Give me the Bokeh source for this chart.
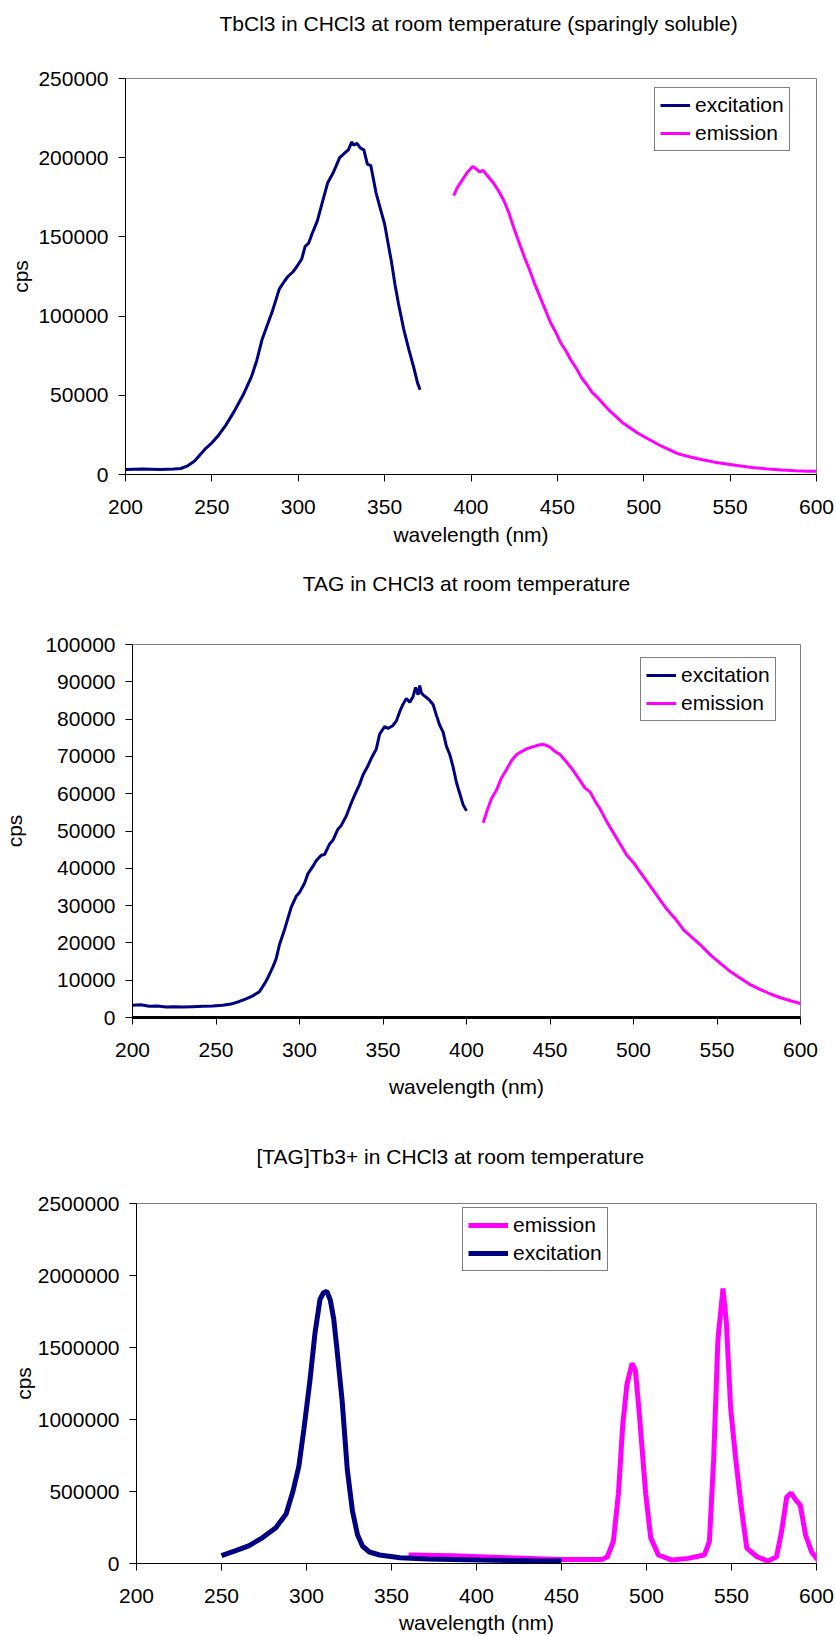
from bokeh.plotting import figure
from bokeh.models import Range1d, FixedTicker, BasicTickFormatter, Legend, LegendItem, Title
from bokeh.embed import file_html
from bokeh.resources import INLINE

FONT = "Liberation Sans"
NAVY = "#000080"
MAGENTA = "#FF00FF"

# ---------------- Chart 1: TbCl3 ----------------
tb_exc_wl = [200, 210, 220, 228, 232, 236, 240, 246, 250, 254, 258, 263, 268, 273, 276, 279, 282,
             285, 289, 292, 294, 297, 299, 302, 304, 306, 308, 311, 313, 315, 317, 320, 322, 324,
             327, 329, 331, 332, 334, 336, 338, 340, 342, 345, 348, 350, 352, 354, 356, 358, 361,
             364, 367, 369, 370.5]
tb_exc_cps = [3200, 3500, 3100, 3400, 3800, 5500, 8500, 16000, 20000, 25000, 31000, 40000, 50000,
              62000, 72000, 85000, 94000, 103000, 117000, 122000, 125000, 128000, 131000, 136000,
              144000, 146000, 152000, 160000, 168000, 176000, 184000, 190000, 195000, 200000,
              203000, 205000, 210000, 208000, 209000, 206000, 205000, 196000, 195000, 178000,
              166000, 158000, 146000, 134000, 120000, 108000, 92000, 79000, 67000, 58000, 53500]
tb_em_wl = [390, 392, 395, 398, 401, 403, 405, 407, 410, 413, 416, 419, 422, 425, 428, 431, 434,
            437, 440, 443, 446, 449, 452, 455, 458, 461, 464, 467, 470, 473, 477, 480, 484, 488,
            492, 496, 500, 505, 510, 515, 520, 527, 534, 541, 548, 556, 564, 572, 580, 588, 595, 600]
tb_em_cps = [176000, 181000, 186000, 191000, 194500, 193000, 191000, 192000, 188000, 184000,
             179000, 173000, 165000, 155000, 146000, 137000, 129000, 120000, 112000, 104000,
             96000, 90000, 83000, 78000, 72000, 67000, 61000, 56800, 52000, 48900, 44000, 40500,
             36500, 32500, 29500, 26500, 24000, 21000, 18000, 15500, 13000, 11000, 9300, 7800,
             6600, 5400, 4300, 3500, 2800, 2300, 2000, 2000]
tb_x_ticks = [200, 250, 300, 350, 400, 450, 500, 550, 600]
tb_y_ticks = [0, 50000, 100000, 150000, 200000, 250000]

# ---------------- Chart 2: TAG ----------------
tag_exc_wl = [200, 205, 210, 215, 220, 225, 230, 236, 242, 248, 254, 259, 264, 268, 272, 276, 279,
              281, 284, 286, 288, 291, 293, 295, 298, 300, 303, 305, 308, 310, 313, 315, 318, 320,
              323, 325, 328, 331, 333, 336, 338, 341, 343, 346, 348, 351, 353, 356, 358, 360, 362,
              364, 366, 368, 369.5, 371, 372, 373, 374, 376, 378, 380, 382, 384, 386, 388, 390,
              392, 394, 396, 398, 400]
tag_exc_cps = [3300, 3400, 3000, 3100, 2800, 2900, 2800, 2900, 3000, 3100, 3300, 3600, 4300, 5000,
               5800, 6900, 9000, 10600, 13500, 15700, 19500, 23500, 26500, 29500, 32500, 33500,
               36000, 38500, 40500, 42000, 43500, 43700, 46500, 47500, 50500, 51500, 54000, 57500,
               59600, 62500, 65000, 67500, 69500, 72000, 76000, 78000, 77500, 78300, 79500, 82000,
               84000, 85500, 84500, 86000, 88500, 86500, 89000, 87000, 86500, 85800, 85000, 83900,
               81000, 78300, 76500, 72700, 70500, 67100, 63000, 60000, 57000, 55400]
tag_em_wl = [410, 412, 415, 418, 421, 424, 427, 430, 433, 436, 439, 442, 445, 447, 450, 453, 456,
             459, 462, 465, 468, 471, 474, 477, 480, 484, 488, 492, 496, 500, 504, 508, 512, 516,
             520, 525, 530, 535, 540, 546, 552, 558, 564, 570, 576, 582, 588, 594, 600]
tag_em_cps = [52200, 55000, 58700, 61000, 64300, 66500, 68900, 70500, 71300, 72000, 72500, 72900,
              73200, 73100, 72500, 71300, 70500, 69000, 67300, 65500, 63500, 61500, 60500, 58000,
              55900, 52500, 49500, 46500, 43500, 41500, 39000, 36500, 34000, 31500, 29000, 26500,
              23500, 21500, 19500, 16800, 14500, 12300, 10500, 8800, 7500, 6300, 5300, 4500, 3740]
tag_x_ticks = [200, 250, 300, 350, 400, 450, 500, 550, 600]
tag_y_ticks = [0, 10000, 20000, 30000, 40000, 50000, 60000, 70000, 80000, 90000, 100000]

# ---------------- Chart 3: [TAG]Tb3+ ----------------
cx_exc_wl = [250, 258, 266, 274, 282, 288, 292, 295.5, 298.5, 302, 305, 308, 310, 312, 314, 316,
             318, 321, 324, 327, 330, 333, 337, 343, 355, 371, 402, 433, 450]
cx_exc_cps = [55000, 88000, 123000, 178000, 249000, 344000, 500000, 675000, 936000, 1268000,
              1600000, 1837000, 1880000, 1890000, 1830000, 1700000, 1480000, 1125000, 652000,
              367000, 200000, 120000, 80000, 59000, 40000, 31000, 24000, 19000, 16600]
cx_em_wl = [360, 386, 418, 449, 474, 477, 480.5, 483.5, 486, 488.5, 491.5, 493.5, 496, 499.5,
            502.5, 507, 515, 524.5, 534, 537, 539.5, 542, 545, 547, 549.5, 552.5, 556, 559,
            565, 571.5, 576.5, 579.5, 582.5, 585, 588, 590.5, 593.5, 597, 600, 604]
cx_em_cps = [59000, 54500, 40000, 28500, 28500, 47000, 154000, 486000, 960000, 1244000, 1390000,
             1340000, 1007000, 486000, 178000, 59000, 24000, 35500, 59000, 154000, 723000, 1552000,
             1910000, 1670000, 1078000, 723000, 367000, 107000, 47000, 16600, 47000, 225000,
             462000, 490000, 438000, 403000, 201000, 83000, 35500, 12000]
cx_x_ticks = [200, 250, 300, 350, 400, 450, 500, 550, 600]
cx_y_ticks = [0, 500000, 1000000, 1500000, 2000000, 2500000]

FS = "21px"


def make_fig(title, height, borders, gap, t_align, t_offset, x_ticks, y_ticks,
             xlabel_standoff, ylabel_standoff, x_axis_width=1):
    left, right, top, bottom = borders
    p = figure(width=836, height=height, output_backend="svg", toolbar_location=None,
               title=None,
               x_range=Range1d(x_ticks[0], x_ticks[-1]), y_range=Range1d(y_ticks[0], y_ticks[-1]),
               min_border_left=left, min_border_right=right, min_border_top=top,
               min_border_bottom=bottom)
    # empty spacer panel between the frame and the title
    p.add_layout(Title(text=" ", text_font=FONT, text_font_size=FS, standoff=gap), "above")
    p.add_layout(Title(text=title, align=t_align, offset=t_offset, text_font=FONT,
                       text_font_size=FS, text_font_style="normal", text_color="black",
                       standoff=0), "above")
    p.xgrid.visible = False
    p.ygrid.visible = False
    p.outline_line_color = "#808080"
    p.outline_line_width = 1
    p.background_fill_color = "white"
    p.border_fill_color = "white"
    for ax in (p.xaxis[0], p.yaxis[0]):
        ax.axis_line_color = "black"
        ax.major_tick_line_color = "black"
        ax.major_tick_in = 0
        ax.major_tick_out = 7
        ax.minor_tick_line_color = None
        ax.major_label_text_font = FONT
        ax.major_label_text_font_size = FS
        ax.major_label_text_color = "black"
        ax.axis_label_text_font = FONT
        ax.axis_label_text_font_size = FS
        ax.axis_label_text_font_style = "normal"
        ax.axis_label_text_color = "black"
    p.xaxis[0].major_label_standoff = 18
    p.yaxis[0].major_label_standoff = 10
    p.xaxis[0].axis_label_standoff = xlabel_standoff
    p.yaxis[0].axis_label_standoff = ylabel_standoff
    p.xaxis[0].axis_line_width = x_axis_width
    p.xaxis[0].ticker = FixedTicker(ticks=x_ticks)
    p.yaxis[0].ticker = FixedTicker(ticks=y_ticks)
    p.xaxis[0].formatter = BasicTickFormatter(use_scientific=False)
    p.yaxis[0].formatter = BasicTickFormatter(use_scientific=False)
    p.xaxis[0].axis_label = "wavelength (nm)"
    p.yaxis[0].axis_label = "cps"
    return p


def add_legend(p, items, loc, glyph_w):
    leg = Legend(items=items, location=loc, label_text_font=FONT, label_text_font_size=FS,
                 label_text_color="black", border_line_color="black", border_line_width=1,
                 background_fill_alpha=1, glyph_width=glyph_w, glyph_height=20, label_height=20,
                 spacing=4, padding=5, margin=0, label_standoff=5)
    p.add_layout(leg)


# Chart 1
p1 = make_fig("TbCl3 in CHCl3 at room temperature (sparingly soluble)", 550,
              (125, 20, 78, 76), 19, "left", 94, tb_x_ticks, tb_y_ticks, 6, 3)
r1a = p1.line(tb_exc_wl, tb_exc_cps, line_color=NAVY, line_width=3)
r1b = p1.line(tb_em_wl, tb_em_cps, line_color=MAGENTA, line_width=3)
add_legend(p1, [LegendItem(label="excitation", renderers=[r1a]),
                LegendItem(label="emission", renderers=[r1b])], (529, 323), 30)

# Chart 2
p2 = make_fig("TAG in CHCl3 at room temperature", 550,
              (125, 36, 94, 81), 25, "center", 0, tag_x_ticks, tag_y_ticks, 15, 16,
              x_axis_width=3)
r2a = p2.line(tag_exc_wl, tag_exc_cps, line_color=NAVY, line_width=3)
r2b = p2.line(tag_em_wl, tag_em_cps, line_color=MAGENTA, line_width=3)
add_legend(p2, [LegendItem(label="excitation", renderers=[r2a]),
                LegendItem(label="emission", renderers=[r2b])], (508, 296), 30)

# Chart 3
p3 = make_fig("[TAG]Tb3+ in CHCl3 at room temperature", 536,
              (136, 20, 103, 73), 11, "left", 120, cx_x_ticks, cx_y_ticks, 5, 0)
r3b = p3.line(cx_em_wl, cx_em_cps, line_color=MAGENTA, line_width=5)
r3a = p3.line(cx_exc_wl, cx_exc_cps, line_color=NAVY, line_width=5)
add_legend(p3, [LegendItem(label="emission", renderers=[r3b]),
                LegendItem(label="excitation", renderers=[r3a])], (326, 292), 40)

open("out.html", "w").write(file_html([p1, p2, p3], INLINE))
